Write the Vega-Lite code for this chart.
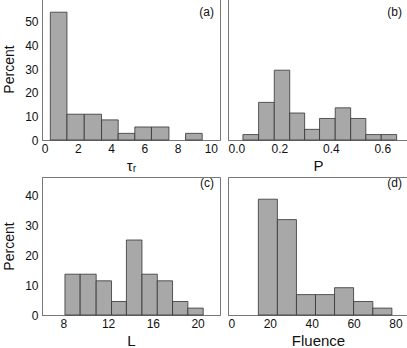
{
  "$schema": "https://vega.github.io/schema/vega-lite/v6.json",
  "padding": {"left": 2, "top": -3, "right": 0, "bottom": 0},
  "datasets": {
    "a": [
      {"lo": 0.35, "hi": 1.35, "pct": 54},
      {"lo": 1.35, "hi": 2.39, "pct": 10.9},
      {"lo": 2.39, "hi": 3.43, "pct": 10.9},
      {"lo": 3.43, "hi": 4.43, "pct": 8.5},
      {"lo": 4.43, "hi": 5.43, "pct": 2.8},
      {"lo": 5.43, "hi": 6.43, "pct": 5.5},
      {"lo": 6.43, "hi": 7.48, "pct": 5.5},
      {"lo": 8.48, "hi": 9.48, "pct": 2.8}
    ],
    "b": [
      {"lo": 0.058, "hi": 0.119, "pct": 2.3},
      {"lo": 0.119, "hi": 0.180, "pct": 15.9},
      {"lo": 0.180, "hi": 0.240, "pct": 29.5},
      {"lo": 0.240, "hi": 0.298, "pct": 11.4},
      {"lo": 0.298, "hi": 0.356, "pct": 4.5},
      {"lo": 0.356, "hi": 0.417, "pct": 9.1},
      {"lo": 0.417, "hi": 0.477, "pct": 13.6},
      {"lo": 0.477, "hi": 0.536, "pct": 9.1},
      {"lo": 0.536, "hi": 0.596, "pct": 2.3},
      {"lo": 0.596, "hi": 0.656, "pct": 2.3}
    ],
    "c": [
      {"lo": 8.15, "hi": 9.51, "pct": 13.6},
      {"lo": 9.51, "hi": 10.94, "pct": 13.6},
      {"lo": 10.94, "hi": 12.31, "pct": 11.4},
      {"lo": 12.31, "hi": 13.64, "pct": 4.5},
      {"lo": 13.64, "hi": 15.03, "pct": 25.0},
      {"lo": 15.03, "hi": 16.40, "pct": 13.6},
      {"lo": 16.40, "hi": 17.76, "pct": 11.4},
      {"lo": 17.76, "hi": 19.13, "pct": 4.5},
      {"lo": 19.13, "hi": 20.50, "pct": 2.3}
    ],
    "d": [
      {"lo": 14.5, "hi": 23.6, "pct": 38.6},
      {"lo": 23.6, "hi": 32.7, "pct": 31.8},
      {"lo": 32.7, "hi": 41.8, "pct": 6.8},
      {"lo": 41.8, "hi": 50.9, "pct": 6.8},
      {"lo": 50.9, "hi": 60.0, "pct": 9.1},
      {"lo": 60.0, "hi": 69.2, "pct": 4.5},
      {"lo": 69.2, "hi": 78.3, "pct": 2.3}
    ]
  },
  "columns": 2,
  "spacing": {"row": 2, "column": 6},
  "concat": [
    {
      "width": 178, "height": 142,
      "title": {"text": "(a)", "offset": -21, "dx": -6},
      "data": {"name": "a"},
      "mark": "bar",
      "encoding": {
        "x": {"field": "lo", "type": "quantitative", "scale": {"domain": [-0.15, 10.55], "nice": false, "zero": false}, "axis": {"values": [0, 2, 4, 6, 8, 10], "title": "τᵣ"}},
        "x2": {"field": "hi"},
        "y": {"field": "pct", "type": "quantitative", "scale": {"domain": [0, 60], "nice": false}, "axis": {"values": [0, 10, 20, 30, 40, 50], "title": "Percent"}},
        "y2": {"datum": 0}
      }
    },
    {
      "width": 180, "height": 142,
      "title": {"text": "(b)", "offset": -21, "dx": -6},
      "data": {"name": "b"},
      "mark": "bar",
      "encoding": {
        "x": {"field": "lo", "type": "quantitative", "scale": {"domain": [0, 0.7], "nice": false, "zero": false}, "axis": {"values": [0, 0.2, 0.4, 0.6], "format": ".1f", "labelFlush": true, "title": "P"}},
        "x2": {"field": "hi"},
        "y": {"field": "pct", "type": "quantitative", "scale": {"domain": [0, 60], "nice": false}, "axis": null},
        "y2": {"datum": 0}
      }
    },
    {
      "width": 178, "height": 138,
      "title": {"text": "(c)", "offset": -13, "dx": -6},
      "data": {"name": "c"},
      "mark": "bar",
      "encoding": {
        "x": {"field": "lo", "type": "quantitative", "scale": {"domain": [6.1, 22], "nice": false, "zero": false}, "axis": {"values": [8, 12, 16, 20], "title": "L"}},
        "x2": {"field": "hi"},
        "y": {"field": "pct", "type": "quantitative", "scale": {"domain": [0, 46], "nice": false}, "axis": {"values": [0, 10, 20, 30, 40], "title": "Percent"}},
        "y2": {"datum": 0}
      }
    },
    {
      "width": 180, "height": 138,
      "title": {"text": "(d)", "offset": -13, "dx": -6},
      "data": {"name": "d"},
      "mark": "bar",
      "encoding": {
        "x": {"field": "lo", "type": "quantitative", "scale": {"domain": [0, 86], "nice": false, "zero": false}, "axis": {"values": [0, 20, 40, 60, 80], "labelFlush": true, "title": "Fluence"}},
        "x2": {"field": "hi"},
        "y": {"field": "pct", "type": "quantitative", "scale": {"domain": [0, 46], "nice": false}, "axis": null},
        "y2": {"datum": 0}
      }
    }
  ],
  "config": {
    "font": "Liberation Sans",
    "view": {"stroke": "#777", "strokeWidth": 1},
    "axis": {"grid": false, "ticks": false, "domainColor": "#777", "labelFont": "Liberation Sans", "labelFontSize": 12, "labelColor": "#111", "titleFont": "Liberation Sans", "titleFontWeight": "normal", "titleColor": "#111"},
    "axisX": {"labelPadding": 3, "titlePadding": 4, "titleFontSize": 15, "labelAngle": 0},
    "axisY": {"labelPadding": 4, "titleFontSize": 14, "titlePadding": 8},
    "bar": {"fill": "#a8a8a8", "stroke": "#333", "strokeWidth": 0.8},
    "title": {"anchor": "end", "fontSize": 12, "fontWeight": "normal", "font": "Liberation Sans", "color": "#111"}
  }
}
